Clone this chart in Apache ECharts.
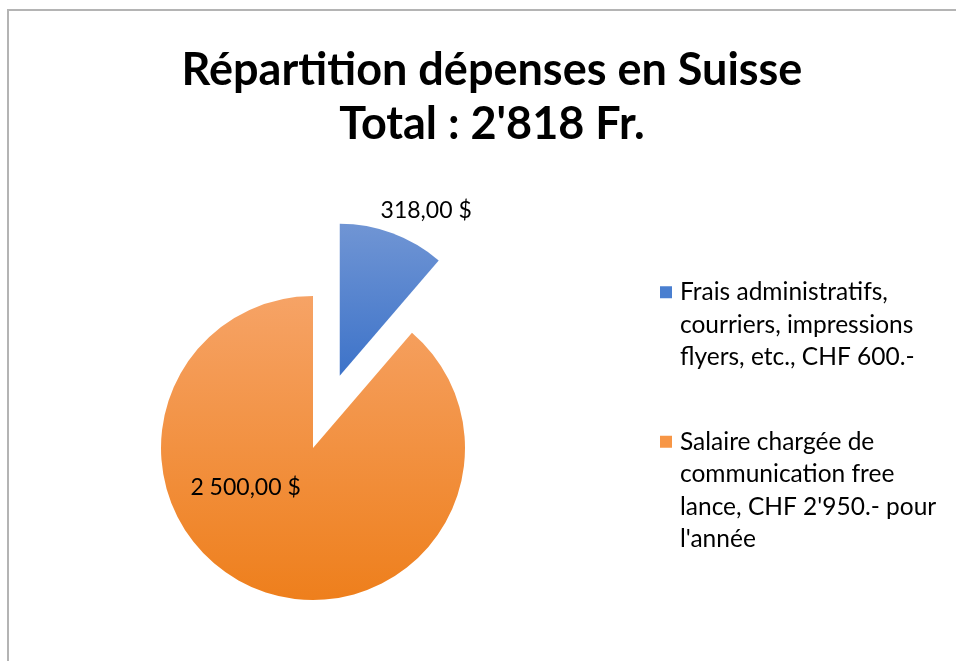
<!DOCTYPE html>
<html>
<head>
<meta charset="utf-8">
<script src="https://cdn.jsdelivr.net/npm/echarts@6/dist/echarts.min.js"></script>
<style>
  html, body { margin: 0; padding: 0; background: #fff; }
  #chart { position: absolute; left: 0; top: 0; width: 956px; height: 661px; }
  #frame { position: absolute; left: 7px; top: 9px; right: -5px; bottom: -5px; border-top: 2px solid #b4b4b4; border-left: 2px solid #b4b4b4; pointer-events: none; }
</style>
</head>
<body>
<div id="chart"></div>
<div id="frame"></div>
<script>
const categories = [
  'Frais administratifs, courriers, impressions flyers, etc., CHF 600.-',
  "Salaire chargée de communication free lance, CHF 2'950.- pour l'année"
]
const values = [318, 2500]
// line breaks as in the legend of the original
const legendLines = [
  ['Frais administratifs,', 'courriers, impressions', 'flyers, etc., CHF 600.-'],
  ['Salaire chargée de', 'communication free', "lance, CHF 2'950.- pour", "l'année"]
]
const titleText = "Répartition dépenses en Suisse\nTotal : 2'818 Fr."

const colorsTop = ['#7095d4', '#f6a366']
const colorsMid = ['#4a7fd0', '#f79646']
const colorsBottom = ['#3d73c9', '#ee7f1c']
const font = 'Lato, "Open Sans", sans-serif'

function money (v) {
  const parts = v.toFixed(2).split('.')
  return parts[0].replace(/\B(?=(\d{3})+(?!\d))/g, ' ') + ',' + parts[1] + ' $'
}

const chart = echarts.init(document.getElementById('chart'))

const rich = {
  gap: {width: 8},
  pad: {width: 20, fontSize: 24.5, lineHeight: 32.5}
}
categories.forEach((c, i) => {
  rich['sq' + i] = {width: 12, height: 12, backgroundColor: colorsMid[i], verticalAlign: 'middle'}
})

const labelOffsets = [[59, -91], [-40, -35]]

const option = {
  animation: false,
  title: {
    text: titleText,
    left: 487,
    textAlign: 'center',
    top: 38,
    textStyle: {
      fontFamily: font,
      fontWeight: 'bold',
      fontSize: 45,
      lineHeight: 54,
      color: '#000'
    }
  },
  legend: {
    orient: 'vertical',
    left: 655,
    top: 276,
    padding: 0,
    icon: 'none',
    itemWidth: 0,
    itemHeight: 0,
    itemGap: 52,
    selectedMode: false,
    data: categories,
    formatter: function (name) {
      const i = categories.indexOf(name)
      const lines = legendLines[i]
      return '{sq' + i + '|}{gap|}' + lines[0] + '\n{pad|}' + lines.slice(1).join('\n{pad|}')
    },
    textStyle: {
      fontFamily: font,
      fontSize: 24.5,
      lineHeight: 32.5,
      color: '#000',
      rich: rich
    }
  },
  series: [
    {
      type: 'pie',
      center: [313, 448],
      radius: 152,
      startAngle: 90,
      clockwise: true,
      selectedMode: 'single',
      selectedOffset: 77,
      emphasis: {disabled: true},
      labelLine: {show: false},
      label: {
        position: 'inside',
        fontFamily: font,
        fontSize: 23,
        color: '#000',
        formatter: p => money(p.value)
      },
      data: values.map((v, i) => ({
        name: categories[i],
        value: v,
        selected: i === 0,
        label: {offset: labelOffsets[i]},
        select: {label: {offset: labelOffsets[i], color: '#000'}, itemStyle: {borderWidth: 0}},
        itemStyle: {
          color: new echarts.graphic.LinearGradient(0, 0, 0, 1, [
            {offset: 0, color: colorsTop[i]},
            {offset: 1, color: colorsBottom[i]}
          ])
        }
      }))
    }
  ]
}

chart.setOption(option)
</script>
</body>
</html>
